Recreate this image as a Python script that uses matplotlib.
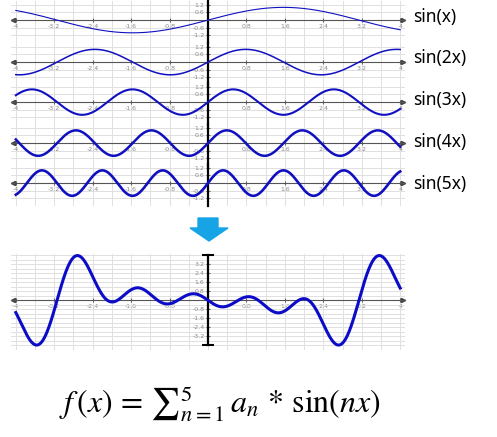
import matplotlib.pyplot as plt
from matplotlib.patches import Polygon
import numpy as np

plt.rcParams['axes.unicode_minus'] = False
plt.rcParams['mathtext.fontset'] = 'stix'

W, H = 497, 437

# harmonics shown on the top and their weights a_n in the sum below
harmonics = [1, 2, 3, 4, 5]
coefs = [-1, 1, -1, 1, -1]
labels = ['sin(x)', 'sin(2x)', 'sin(3x)', 'sin(4x)', 'sin(5x)']
x_ticks = [-4, -3.2, -2.4, -1.6, -0.8, 0.8, 1.6, 2.4, 3.2, 4]
top_yticks = [-1.2, -0.6, 0.6, 1.2]
bot_yticks = [-3.2, -2.4, -1.6, -0.8, 0.8, 1.6, 2.4, 3.2]

panel_top = [1, 43, 83, 124, 164]     # px, top edge of each small panel
label_y = [17, 58, 100, 142, 184]
line_w = [0.8, 1.1, 1.5, 1.8, 1.9]
BLUE = '#1010c0'

x = np.linspace(-4, 4, 801)


def px_axes(fig, l, t, w, h):
    return fig.add_axes([l / W, 1 - (t + h) / H, w / W, h / H])


def style(ax, yticks, ystep, ylim, yaxis_lw):
    ax.set_facecolor('none')
    ax.set_xlim(-4.1, 4.1)
    ax.set_ylim(*ylim)
    for s in ['top', 'right']:
        ax.spines[s].set_visible(False)
    ax.spines['bottom'].set_position(('data', 0))
    ax.spines['left'].set_position(('data', 0))
    ax.spines['bottom'].set_color('#555555')
    ax.spines['bottom'].set_linewidth(0.8)
    ax.spines['left'].set_color('black')
    ax.spines['left'].set_linewidth(yaxis_lw)
    ax.set_xticks(x_ticks)
    ax.set_xticklabels([f'{v:g}' for v in x_ticks])
    ax.set_yticks(yticks)
    ax.set_yticklabels([f'{v:g}' for v in yticks])
    ax.set_xticks(np.arange(-4, 4.01, 0.4), minor=True)
    ax.set_yticks(np.arange(ylim[0] // ystep * ystep, ylim[1], ystep), minor=True)
    ax.tick_params(which='minor', length=0)
    ax.tick_params(which='major', length=3, direction='inout', color='#666666',
                   labelsize=4.5, labelcolor='#8a8a8a', pad=1)
    ax.grid(which='both', color='#e0e0e0', lw=0.7)
    ax.set_axisbelow(True)
    ax.plot([-4.05], [0], marker='<', ms=3, color='#444444', clip_on=False)
    ax.plot([4.05], [0], marker='>', ms=3, color='#444444', clip_on=False)


fig = plt.figure(figsize=(W / 100, H / 100), dpi=100)

for n, top, ly, lw, lab in zip(harmonics, panel_top, label_y, line_w, labels):
    ax = px_axes(fig, 11, top, 394, 42)
    style(ax, top_yticks, 0.6, (-1.5, 1.5), 1.6)
    ax.plot(x, np.sin(n * x), color=BLUE, lw=lw, zorder=3)
    fig.text(413 / W, 1 - ly / H, lab, fontsize=12.5, family='Noto Sans',
             ha='left', va='center')

# sum of the harmonics
f = sum(a * np.sin(n * x) for a, n in zip(coefs, harmonics))
ax = px_axes(fig, 11, 254, 394, 96)
style(ax, bot_yticks, 0.4, (-4.1, 4.1), 1.6)
ax.spines['left'].set_bounds(-4, 4)
ax.plot([0, 0], [-4, 4], ls='none', marker='_', ms=8, mew=1.5, color='black')
ax.plot(x, f, color='#0c0cc8', lw=2.2, zorder=3)

# arrow between the two parts
arrow = [(198, 218), (218, 218), (218, 228), (228, 228), (209, 241),
         (190, 228), (198, 228)]
fig.patches.append(Polygon([(px / W, 1 - py / H) for px, py in arrow],
                           closed=True, color='#16a4e6',
                           transform=fig.transFigure))

fig.text(220 / W, 1 - 403 / H,
         r'$f\,(x)\,=\,{\sum}_{n=1}^{5}\,a_n\,*\,\mathrm{sin}(nx)$',
         fontsize=23, ha='center', va='center')

fig.savefig('out.png', dpi=100)
